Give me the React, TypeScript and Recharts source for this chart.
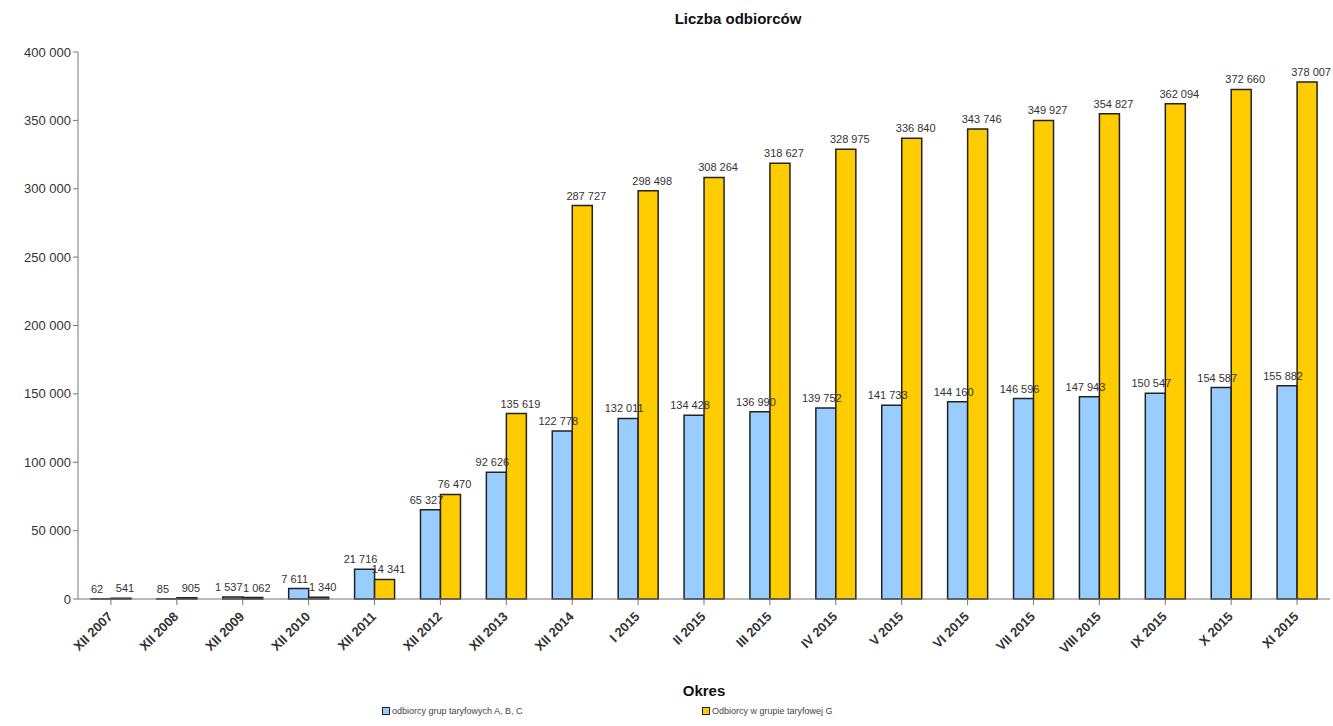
import React from 'react';
import { BarChart, Bar, XAxis, YAxis, Legend, LabelList, Label } from 'recharts';

const periods = [
  'XII 2007', 'XII 2008', 'XII 2009', 'XII 2010', 'XII 2011', 'XII 2012', 'XII 2013', 'XII 2014',
  'I 2015', 'II 2015', 'III 2015', 'IV 2015', 'V 2015', 'VI 2015', 'VII 2015', 'VIII 2015',
  'IX 2015', 'X 2015', 'XI 2015',
];
const groupABC = [
  62, 85, 1537, 7611, 21716, 65327, 92626, 122778, 132011, 134428, 136990, 139752, 141733,
  144160, 146596, 147943, 150547, 154587, 155882,
];
const groupG = [
  541, 905, 1062, 1340, 14341, 76470, 135619, 287727, 298498, 308264, 318627, 328975, 336840,
  343746, 349927, 354827, 362094, 372660, 378007,
];
const yTicks = [0, 50000, 100000, 150000, 200000, 250000, 300000, 350000, 400000];

const data = periods.map((p, i) => ({ name: p, abc: groupABC[i], g: groupG[i] }));

const fmt = (v: number) => String(v).replace(/\B(?=(\d{3})+(?!\d))/g, ' ');
const FONT = 'Liberation Sans, Arial, sans-serif';

const XTick = (props: any) => {
  const { x, y, payload } = props;
  return (
    <g transform={`translate(${x - 4},${y + 4})`}>
      <text
        x={0}
        y={0}
        dy={9}
        textAnchor="end"
        transform="rotate(-45)"
        fill="#333"
        fontSize={13}
        fontWeight="bold"
        fontFamily={FONT}
      >
        {payload.value}
      </text>
    </g>
  );
};

// small nudge left/right so neighbouring labels of tiny bars don't collide
const makeLabel = (shift: number) => (props: any) => {
  const { x, y, width, value } = props;
  return (
    <text x={x + width / 2 + shift} y={y - 6} textAnchor="middle" fill="#333" fontSize={11} fontFamily={FONT}>
      {fmt(value)}
    </text>
  );
};
const LabelABC = makeLabel(-4);
const LabelG = makeLabel(4);

const LegendBox = () => (
  <div
    style={{
      display: 'flex',
      fontSize: 9,
      color: '#444',
      fontFamily: FONT,
      paddingLeft: 382,
    }}
  >
    <span style={{ display: 'flex', alignItems: 'center', width: 320 }}>
      <span style={{ width: 6, height: 6, background: '#99ccff', border: '1px solid #222', marginRight: 2 }} />
      odbiorcy grup taryfowych A, B, C
    </span>
    <span style={{ display: 'flex', alignItems: 'center' }}>
      <span style={{ width: 6, height: 6, background: '#ffcc00', border: '1px solid #222', marginRight: 2 }} />
      Odbiorcy w grupie taryfowej G
    </span>
  </div>
);

const App = () => {
  return (
    <div style={{ position: 'absolute', left: 0, top: 0, width: 1333, height: 726, background: '#fff' }}>
      <div
        style={{
          position: 'absolute',
          top: 10,
          left: 0,
          width: 1476,
          textAlign: 'center',
          fontFamily: FONT,
          fontWeight: 'bold',
          fontSize: 15,
          color: '#111',
        }}
      >
        Liczba odbiorców
      </div>
      <BarChart
        width={1333}
        height={726}
        data={data}
        margin={{ top: 52, right: 3, bottom: 0, left: 0 }}
        barGap={0}
        barCategoryGap="20%"
      >
        <XAxis
          dataKey="name"
          height={107}
          interval={0}
          tick={<XTick />}
          axisLine={{ stroke: '#777' }}
          tickLine={{ stroke: '#777' }}
        >
          <Label
            value="Okres"
            position="insideBottom"
            offset={10}
            style={{ fontWeight: 'bold', fontSize: 15, fill: '#111', fontFamily: FONT }}
          />
        </XAxis>
        <YAxis
          width={78}
          domain={[0, 400000]}
          ticks={yTicks}
          tickFormatter={fmt}
          axisLine={{ stroke: '#777' }}
          tickLine={{ stroke: '#777' }}
          tickSize={5}
          tick={{ fill: '#333', fontSize: 13, fontFamily: FONT }}
        />
        <Legend verticalAlign="bottom" height={20} content={<LegendBox />} />
        <Bar dataKey="abc" fill="#99ccff" stroke="#222" strokeWidth={1.5} barSize={20} isAnimationActive={false}>
          <LabelList dataKey="abc" content={<LabelABC />} />
        </Bar>
        <Bar dataKey="g" fill="#ffcc00" stroke="#222" strokeWidth={1.5} barSize={20} isAnimationActive={false}>
          <LabelList dataKey="g" content={<LabelG />} />
        </Bar>
      </BarChart>
    </div>
  );
};

export default App;
